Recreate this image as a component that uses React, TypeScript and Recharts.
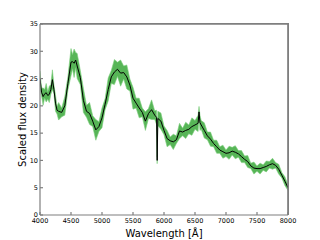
import React from "react";
import { ComposedChart, Area, Line, XAxis, YAxis, ReferenceLine } from "recharts";

const wavelength = [
  4000, 4025, 4050, 4075, 4100, 4125, 4150, 4175, 4200, 4225, 4250, 4275, 4300, 4350, 4400, 4450,
  4500, 4525, 4550, 4575, 4600, 4650, 4700, 4750, 4800, 4850, 4900, 4950, 5000, 5050, 5100, 5150,
  5200, 5250, 5300, 5350, 5400, 5450, 5500, 5550, 5600, 5650, 5700, 5750, 5800, 5850, 5880, 5890,
  5900, 5950, 6000, 6050, 6100, 6150, 6200, 6250, 6300, 6350, 6400, 6450, 6500, 6550, 6565, 6580,
  6600, 6650, 6700, 6750, 6800, 6850, 6900, 6950, 7000, 7050, 7100, 7150, 7200, 7250, 7300, 7350,
  7400, 7450, 7500, 7550, 7600, 7650, 7700, 7750, 7800, 7850, 7900, 7950, 8000,
];

const flux = [
  25.0, 22.5, 21.7, 22.2, 22.4, 21.9, 22.1, 23.0, 24.8, 23.0, 20.5, 19.2, 19.0, 18.8, 20.0, 24.1,
  28.0, 28.1, 27.8, 28.4, 27.3, 25.2, 21.0, 19.0, 18.6, 17.2, 15.6, 16.2, 17.8, 20.3, 23.0, 25.3,
  26.2, 26.7, 26.0, 26.1, 25.3, 23.8, 21.4, 20.5, 19.6, 18.8, 17.2, 18.6, 19.3, 18.3, 17.9, 10.0,
  17.7, 17.2, 15.5, 14.0, 13.6, 13.4, 13.8, 15.4, 15.2, 15.5, 15.7, 16.2, 16.5, 16.8, 18.9, 16.9,
  16.5, 15.5, 14.5, 13.9, 13.1, 12.5, 11.9, 11.6, 11.3, 11.4, 11.7, 11.5, 11.2, 10.7, 10.2, 9.8,
  9.0, 8.6, 8.5, 8.5, 8.7, 8.9, 9.2, 9.4, 9.1, 8.4, 7.3, 6.2, 5.0,
];

// half-width of the green noise band
const spread = [
  1.4, 0.7, 1.6, 0.8, 1.7, 0.7, 1.5, 0.9, 1.8, 0.8, 1.5, 0.7, 1.6, 0.8, 1.7, 1.2,
  2.5, 1.3, 2.6, 1.4, 2.3, 1.3, 2.2, 1.1, 2.0, 1.0, 1.9, 0.9, 1.8, 1.0, 2.1, 1.2,
  2.3, 1.3, 2.4, 1.2, 2.2, 1.1, 2.0, 0.9, 1.8, 0.8, 1.7, 0.9, 1.8, 0.8, 1.3, 0.6,
  1.3, 1.5, 0.8, 1.5, 0.7, 1.4, 0.7, 1.4, 0.7, 1.5, 0.8, 1.6, 0.8, 1.5, 1.0, 1.4,
  0.8, 1.4, 0.7, 1.3, 0.6, 1.2, 0.6, 1.2, 0.6, 1.2, 0.7, 1.2, 0.6, 1.1, 0.6, 1.1,
  0.5, 1.1, 0.5, 1.0, 0.5, 1.0, 0.6, 1.0, 0.5, 0.9, 0.5, 0.8, 0.5,
];

const xTicks = [4000, 4500, 5000, 5500, 6000, 6500, 7000, 7500, 8000];
const yTicks = [0, 5, 10, 15, 20, 25, 30, 35];

const data = wavelength.map((wl, i) => ({
  wl,
  flux: flux[i],
  band: [flux[i] - spread[i], flux[i] + spread[i]],
}));

const axisColor = "#7f7f7f";
const font = "DejaVu Sans";

export default function App() {
  return (
    <div style={{ position: "absolute", left: 0, top: 0, width: 320, height: 240 }}>
      <ComposedChart
        width={320}
        height={240}
        data={data}
        margin={{ top: 20, right: 28, left: 0, bottom: 0 }}
      >
        <XAxis
          dataKey="wl"
          type="number"
          domain={[4000, 8000]}
          ticks={xTicks}
          allowDataOverflow
          stroke={axisColor}
          strokeWidth={1.2}
          tick={{ fill: "#000", fontSize: 6.5, fontFamily: font }}
          tickSize={-3}
          tickMargin={6}
          height={25}
          label={{
            value: "Wavelength [Å]",
            position: "insideBottom",
            offset: 3,
            fill: "#000",
            fontSize: 10,
            fontFamily: font,
          }}
        />
        <XAxis
          xAxisId="top"
          dataKey="wl"
          orientation="top"
          type="number"
          domain={[4000, 8000]}
          tickCount={9}
          allowDataOverflow
          stroke={axisColor}
          strokeWidth={1.2}
          tick={false}
          tickSize={-3}
          height={4}
        />
        <YAxis
          type="number"
          domain={[0, 35]}
          ticks={yTicks}
          allowDataOverflow
          stroke={axisColor}
          strokeWidth={1.2}
          tick={{ fill: "#000", fontSize: 6.5, fontFamily: font }}
          tickSize={-3}
          tickMargin={5}
          width={40}
          label={{
            value: "Scaled flux density",
            angle: -90,
            position: "insideLeft",
            offset: 22,
            textAnchor: "middle",
            fill: "#000",
            fontSize: 10,
            fontFamily: font,
          }}
        />
        <YAxis
          yAxisId="right"
          orientation="right"
          type="number"
          domain={[0, 35]}
          tickCount={8}
          allowDataOverflow
          stroke={axisColor}
          strokeWidth={1.2}
          tick={false}
          tickSize={-3}
          width={4}
        />
        <ReferenceLine y={35} stroke={axisColor} strokeWidth={1.2} />
        <ReferenceLine x={8000} stroke={axisColor} strokeWidth={1.2} />
        <Area
          dataKey="band"
          type="linear"
          fill="#45ad45"
          fillOpacity={0.9}
          stroke="#7ccf7c"
          strokeWidth={0.6}
          isAnimationActive={false}
        />
        <Line
          dataKey="flux"
          type="linear"
          stroke="#000"
          strokeWidth={1}
          dot={false}
          isAnimationActive={false}
        />
      </ComposedChart>
      {/* top and right frame edges of the plot box */}
      <div
        style={{
          position: "absolute",
          left: 40,
          top: 23,
          width: 249,
          height: 192,
          boxSizing: "border-box",
          borderTop: `1px solid ${axisColor}`,
          borderRight: `1px solid ${axisColor}`,
          pointerEvents: "none",
        }}
      />
    </div>
  );
}
